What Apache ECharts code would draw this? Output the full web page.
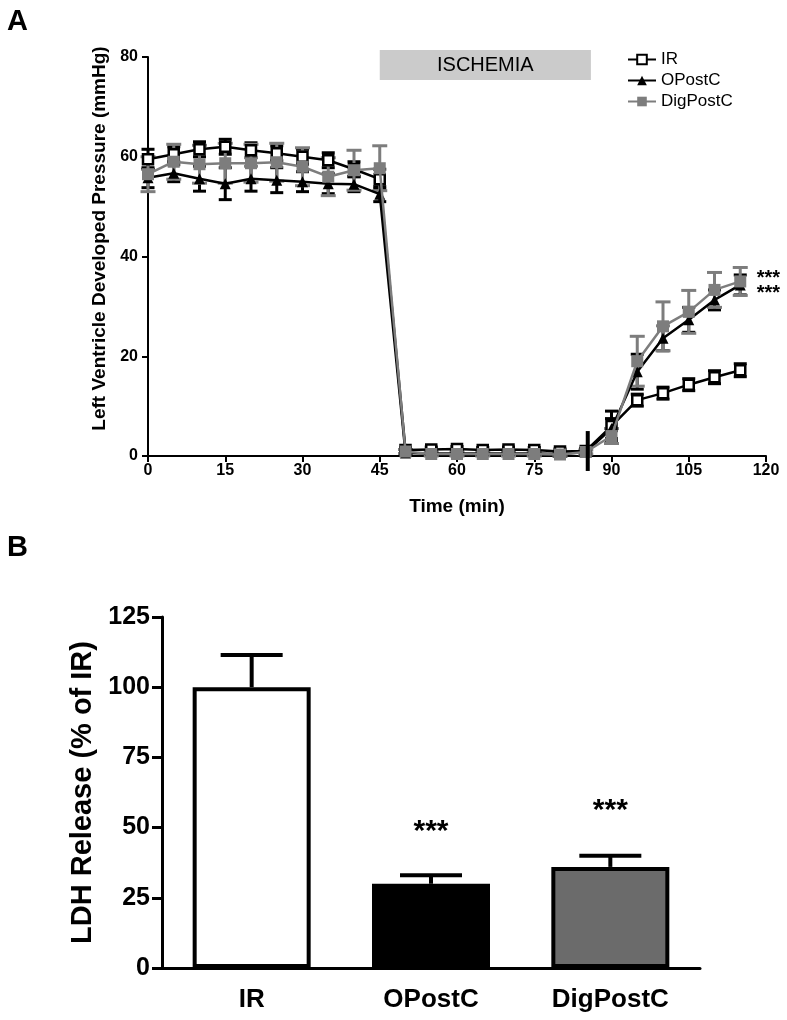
<!DOCTYPE html>
<html>
<head>
<meta charset="utf-8">
<script src="https://cdn.jsdelivr.net/npm/echarts@6/dist/echarts.min.js"></script>
<style>
html,body{margin:0;padding:0;background:#fff;}
#main{width:787px;height:1020px;}
</style>
</head>
<body>
<div id="main"></div>
<script>
// ---------- Panel A data ----------
const times = [0,5,10,15,20,25,30,35,40,45,50,55,60,65,70,75,80,85,90,95,100,105,110,115];
const irMean = [59.5,60.5,61.5,62.0,61.3,60.7,60.0,59.3,57.5,55.5,1.2,1.3,1.4,1.2,1.3,1.2,0.9,1.0,6.0,11.2,12.6,14.3,15.8,17.2];
const irSem  = [2.0,1.5,1.5,1.5,1.5,1.5,1.5,1.5,1.5,2.0,0.5,0.5,0.5,0.5,0.5,0.5,0.5,0.5,3.0,1.2,1.2,1.2,1.3,1.3];
const opMean = [55.8,56.7,55.6,54.6,55.6,55.3,55.0,54.6,54.5,52.5,0.6,0.5,0.5,0.5,0.5,0.5,0.4,0.8,5.5,16.9,23.6,27.3,31.3,34.3];
const opSem  = [2.0,1.7,2.5,3.2,2.5,2.5,2.0,2.0,1.5,1.5,0.4,0.4,0.4,0.4,0.4,0.4,0.4,0.4,2.0,3.5,2.5,2.5,2.0,2.0];
const dgMean = [56.5,59.0,58.5,58.7,58.7,58.9,58.0,56.0,57.3,57.7,0.9,0.4,0.4,0.4,0.4,0.4,0.3,0.8,4.0,19.0,26.0,28.9,33.3,35.0];
const dgSem  = [3.5,3.5,3.8,4.0,3.8,3.8,3.8,3.8,4.0,4.5,0.4,0.4,0.4,0.4,0.4,0.4,0.4,0.4,1.5,5.0,4.9,4.3,3.5,2.8];
const seriesNamesA = ['IR','OPostC','DigPostC'];
const xTicksA = [0,15,30,45,60,75,90,105,120];
const ischemia = [45, 86, 81.4, 75.4];   // start, end (min), box top, box bottom (mmHg)
const ischemiaLabel = 'ISCHEMIA';
const reperfMark = [85, 5, -3];        // time, from, to
const starsA = [[118.2, 36.3], [118.2, 33.3]];

// ---------- Panel B data ----------
const groupsB = ['IR','OPostC','DigPostC'];
const ldhMean = [100, 30, 36];
const ldhSem  = [11.5, 3, 4];
const starsB = [null, '***', '***'];
const starsBY = [null, 51, 58.5];

const FONT = 'Liberation Sans, Arial, Helvetica, sans-serif';
const GRAY = '#7d7d7d';

const chart = echarts.init(document.getElementById('main'), null, {renderer:'canvas'});

function pairs(m){ return times.map((t,i)=>[t,m[i]]); }
function errData(m,s){ return times.map((t,i)=>[t,m[i],s[i]]); }

function errRender(color, capW, lw){
  return function(params, api){
    const x = api.value(0), y = api.value(1), e = api.value(2);
    const top = api.coord([x, y+e]), bot = api.coord([x, y-e]);
    const st = {stroke: color, lineWidth: lw};
    return {type:'group', children:[
      {type:'line', shape:{x1:top[0],y1:top[1],x2:bot[0],y2:bot[1]}, style:st},
      {type:'line', shape:{x1:top[0]-capW/2,y1:top[1],x2:top[0]+capW/2,y2:top[1]}, style:st},
      {type:'line', shape:{x1:bot[0]-capW/2,y1:bot[1],x2:bot[0]+capW/2,y2:bot[1]}, style:st}
    ]};
  };
}

const axisLabelA = {color:'#000', fontFamily:FONT, fontWeight:'bold', fontSize:16};

const option = {
  backgroundColor:'#fff',
  animation:false,
  textStyle:{fontFamily:FONT},
  title:[
    {text:'A', left:2, top:2, textStyle:{fontFamily:FONT, fontWeight:'bold', fontSize:29, color:'#000'}},
    {text:'B', left:2, top:528, textStyle:{fontFamily:FONT, fontWeight:'bold', fontSize:29, color:'#000'}}
  ],
  legend:{
    data: seriesNamesA,
    orient:'vertical', left:622, top:46,
    itemWidth:28, itemHeight:12, itemGap:4,
    textStyle:{fontFamily:FONT, fontSize:17, color:'#000'}
  },
  grid:[
    {left:148, top:57, width:618, height:399, outerBoundsMode:'none', containLabel:false},
    {left:162, top:617, width:538, height:351, outerBoundsMode:'none', containLabel:false}
  ],
  xAxis:[
    {type:'value', gridIndex:0, min:0, max:120, interval:15,
     name:'Time (min)', nameLocation:'middle', nameGap:41,
     nameTextStyle:{color:'#000', fontFamily:FONT, fontWeight:'bold', fontSize:19},
     axisLine:{show:true, lineStyle:{color:'#000', width:2}},
     axisTick:{show:true, length:6, lineStyle:{color:'#000', width:2}},
     axisLabel:Object.assign({margin:7, formatter:v=>xTicksA.includes(v)?String(v):''}, axisLabelA),
     splitLine:{show:false}},
    {type:'category', gridIndex:1, data:groupsB,
     axisLine:{show:true, lineStyle:{color:'#000', width:3}},
     axisTick:{show:false},
     axisLabel:{color:'#000', fontFamily:FONT, fontWeight:'bold', fontSize:26, margin:19},
     splitLine:{show:false}}
  ],
  yAxis:[
    {type:'value', gridIndex:0, min:0, max:80, interval:20,
     name:'Left Ventricle Developed Pressure (mmHg)', nameLocation:'middle', nameGap:39,
     nameTextStyle:{color:'#000', fontFamily:FONT, fontWeight:'bold', fontSize:19, padding:[0,0,0,36]},
     axisLine:{show:true, lineStyle:{color:'#000', width:2}},
     axisTick:{show:true, length:6, lineStyle:{color:'#000', width:2}},
     axisLabel:Object.assign({margin:10}, axisLabelA),
     splitLine:{show:false}},
    {type:'value', gridIndex:1, min:0, max:125, interval:25,
     name:'LDH Release (% of IR)', nameLocation:'middle', nameGap:50,
     nameTextStyle:{color:'#000', fontFamily:FONT, fontWeight:'bold', fontSize:29},
     axisLine:{show:true, lineStyle:{color:'#000', width:3}},
     axisTick:{show:true, length:10, lineStyle:{color:'#000', width:3}},
     axisLabel:{color:'#000', fontFamily:FONT, fontWeight:'bold', fontSize:25, margin:12},
     splitLine:{show:false}}
  ],
  series:[
    // ischemia box
    {type:'custom', name:'ischemiaBox', xAxisIndex:0, yAxisIndex:0, clip:false, silent:true, z:1,
     data:[ischemia],
     renderItem:function(params, api){
       const p1 = api.coord([api.value(0), api.value(2)]);
       const p2 = api.coord([api.value(1), api.value(3)]);
       return {type:'group', children:[
         {type:'rect', shape:{x:p1[0], y:p1[1], width:p2[0]-p1[0], height:p2[1]-p1[1]}, style:{fill:'#cbcbcb'}},
         {type:'text', style:{text:ischemiaLabel, x:(p1[0]+p2[0])/2, y:(p1[1]+p2[1])/2+1, align:'center', verticalAlign:'middle',
           fill:'#000', font:'20px '+FONT}}
       ]};
     }},
    // error bars
    {type:'custom', name:'IR err', xAxisIndex:0, yAxisIndex:0, z:2, data:errData(irMean, irSem), renderItem:errRender('#000', 13, 3)},
    {type:'custom', name:'OPostC err', xAxisIndex:0, yAxisIndex:0, z:3, data:errData(opMean, opSem), renderItem:errRender('#000', 13, 3)},
    {type:'custom', name:'DigPostC err', xAxisIndex:0, yAxisIndex:0, z:4, data:errData(dgMean, dgSem), renderItem:errRender(GRAY, 15, 3)},
    {type:'line', name:'IR', xAxisIndex:0, yAxisIndex:0, z:5, data:pairs(irMean),
     symbol:'rect', symbolSize:10, showAllSymbol:true,
     lineStyle:{color:'#000', width:2.5},
     itemStyle:{color:'#fff', borderColor:'#000', borderWidth:2.5}},
    {type:'line', name:'OPostC', xAxisIndex:0, yAxisIndex:0, z:6, data:pairs(opMean),
     symbol:'triangle', symbolSize:11, showAllSymbol:true,
     lineStyle:{color:'#000', width:2.5},
     itemStyle:{color:'#000'}},
    {type:'line', name:'DigPostC', xAxisIndex:0, yAxisIndex:0, z:7, data:pairs(dgMean),
     symbol:'rect', symbolSize:12, showAllSymbol:true,
     lineStyle:{color:GRAY, width:2.5},
     itemStyle:{color:GRAY}},
    // reperfusion mark
    {type:'custom', name:'reperf', xAxisIndex:0, yAxisIndex:0, clip:false, silent:true, z:8,
     data:[reperfMark],
     renderItem:function(params, api){
       const a = api.coord([api.value(0), api.value(1)]);
       const b = api.coord([api.value(0), api.value(2)]);
       return {type:'line', shape:{x1:a[0]+2,y1:a[1],x2:b[0]+2,y2:b[1]}, style:{stroke:'#000', lineWidth:4}};
     }},
    // stars panel A
    {type:'custom', name:'starsA', xAxisIndex:0, yAxisIndex:0, clip:false, silent:true, z:9,
     data:starsA,
     renderItem:function(params, api){
       const p = api.coord([api.value(0), api.value(1)]);
       return {type:'text', style:{text:'***', x:p[0], y:p[1]+4, align:'left', verticalAlign:'middle', fill:'#000', font:'bold 20px '+FONT}};
     }},
    // panel B bars
    {type:'bar', name:'LDH', xAxisIndex:1, yAxisIndex:1, barWidth:118, z:2,
     data: ldhMean.map((v,i)=>({value:v, itemStyle:{
        color: ['#fff','#000','#6b6b6b'][i], borderColor:'#000', borderWidth:4}}))},
    {type:'custom', name:'LDH err', xAxisIndex:1, yAxisIndex:1, z:1,
     data: ldhMean.map((v,i)=>[i, v, ldhSem[i]]),
     renderItem:function(params, api){
       const top = api.coord([api.value(0), api.value(1)+api.value(2)]);
       const base = api.coord([api.value(0), api.value(1)]);
       const st = {stroke:'#000', lineWidth:4};
       return {type:'group', children:[
         {type:'line', shape:{x1:top[0],y1:top[1],x2:base[0],y2:base[1]}, style:st},
         {type:'line', shape:{x1:top[0]-31,y1:top[1],x2:top[0]+31,y2:top[1]}, style:st}
       ]};
     }},
    {type:'custom', name:'starsB', xAxisIndex:1, yAxisIndex:1, clip:false, silent:true, z:3,
     data: starsB.map((s,i)=>[i, starsBY[i] == null ? 0 : starsBY[i], s ? 1 : 0]),
     renderItem:function(params, api){
       if (!api.value(2)) return null;
       const p = api.coord([api.value(0), api.value(1)]);
       return {type:'text', style:{text:starsB[params.dataIndex], x:p[0], y:p[1]+7, align:'center', verticalAlign:'middle', fill:'#000', font:'bold 30px '+FONT}};
     }}
  ]
};
chart.setOption(option);
</script>
</body>
</html>
